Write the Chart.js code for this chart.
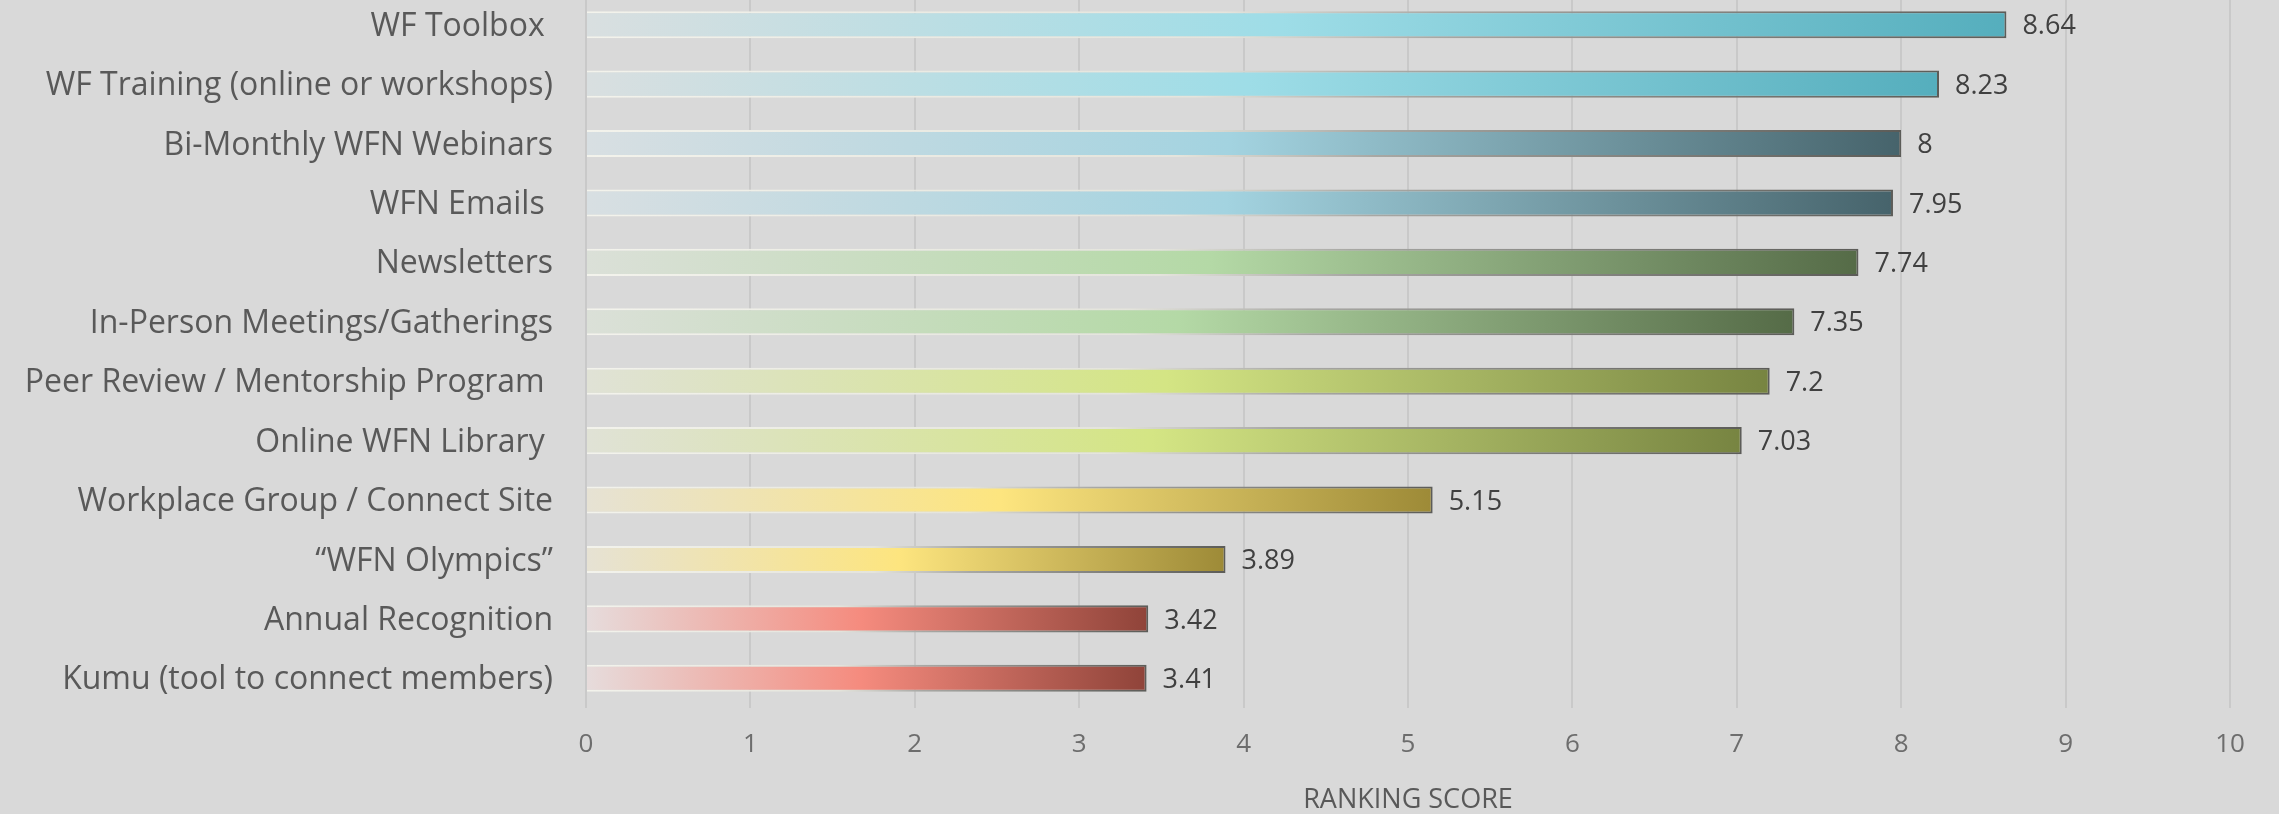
<!DOCTYPE html>
<html>
<head>
<meta charset="utf-8">
<title>Ranking Score</title>
<script src="https://cdn.jsdelivr.net/npm/chart.js@4.4.1/dist/chart.umd.min.js"></script>
<style>
  html, body { margin: 0; padding: 0; background: #d9d9d9; overflow: hidden; }
  #wrap { position: relative; width: 2279px; height: 819px; margin-top: -5px; }
</style>
</head>
<body>
<div id="wrap"><canvas id="c"></canvas></div>
<script>
// Resources, top to bottom
const categories = [
  'WF Toolbox ',
  'WF Training (online or workshops)',
  'Bi-Monthly WFN Webinars',
  'WFN Emails ',
  'Newsletters',
  'In-Person Meetings/Gatherings',
  'Peer Review / Mentorship Program ',
  'Online WFN Library ',
  'Workplace Group / Connect Site',
  '\u201CWFN Olympics\u201D',
  'Annual Recognition',
  'Kumu (tool to connect members)'
];

// Average ranking score per resource
const scores = [8.64, 8.23, 8, 7.95, 7.74, 7.35, 7.2, 7.03, 5.15, 3.89, 3.42, 3.41];

// Score axis
const xTicks = [0, 1, 2, 3, 4, 5, 6, 7, 8, 9, 10];
const axisTitle = 'RANKING SCORE';

// Gradient colours per bar: faded start, bright middle, deep end
const shadeLight = ['#d9dfe0', '#d9dfe0', '#d8dfe2', '#d8dfe2', '#dbe0d8', '#dbe0d8',
                    '#e0e2d6', '#e0e2d6', '#e6e2d4', '#e6e2d4', '#e6dcdc', '#e6dcdc'];
const shadePeak  = ['#9edde7', '#9edde7', '#a3d3e0', '#a3d3e0', '#b4d9a6', '#b4d9a6',
                    '#d4e584', '#d4e584', '#fde57f', '#fde57f', '#f58b7e', '#f58b7e'];
const shadeDark  = ['#55aebd', '#55aebd', '#46636b', '#46636b', '#556b47', '#556b47',
                    '#778441', '#778441', '#9d8a37', '#9d8a37', '#8f4339', '#8f4339'];

const FONT = '"Open Sans", Lato, sans-serif';

function barGradient(context, stops) {
  const chart = context.chart;
  const x = chart.scales && chart.scales.x;
  if (!chart.chartArea || !x) return stops[stops.length - 1][1];
  const i = context.dataIndex;
  const x0 = x.getPixelForValue(0);
  const x1 = x.getPixelForValue(scores[i]);
  const g = chart.ctx.createLinearGradient(x0, 0, x1, 0);
  stops.forEach(([p, c]) => g.addColorStop(p, c));
  return g;
}

// Score printed just past the end of each bar
const valueLabels = {
  id: 'valueLabels',
  afterDatasetsDraw(chart) {
    const ctx = chart.ctx;
    const meta = chart.getDatasetMeta(0);
    ctx.save();
    ctx.font = '27px ' + FONT;
    ctx.fillStyle = '#404040';
    ctx.textAlign = 'left';
    ctx.textBaseline = 'middle';
    meta.data.forEach((bar, i) => {
      ctx.fillText(String(scores[i]), bar.x + 16, bar.y + 2);
    });
    ctx.restore();
  }
};

new Chart(document.getElementById('c'), {
  type: 'bar',
  data: {
    labels: categories,
    datasets: [{
      data: scores,
      backgroundColor: (ctx) => barGradient(ctx, [
        [0, shadeLight[ctx.dataIndex]],
        [0.49, shadePeak[ctx.dataIndex]],
        [1, shadeDark[ctx.dataIndex]]
      ]),
      borderColor: (ctx) => barGradient(ctx, [
        [0, '#f3f3ec'],
        [0.45, '#e4e4dc'],
        [0.6, '#a8a8a4'],
        [1, '#5c5c58']
      ]),
      borderWidth: { top: 2, right: 2, bottom: 2, left: 0 },
      borderSkipped: 'start',
      categoryPercentage: 1,
      barPercentage: 0.455
    }]
  },
  options: {
    indexAxis: 'y',
    responsive: true,
    maintainAspectRatio: false,
    animation: false,
    layout: { padding: { left: 0, right: 49, top: 0, bottom: 0 } },
    plugins: {
      legend: { display: false },
      tooltip: { enabled: false }
    },
    scales: {
      x: {
        type: 'linear',
        min: xTicks[0],
        max: xTicks[xTicks.length - 1],
        afterBuildTicks: (scale) => { scale.ticks = xTicks.map(v => ({ value: v })); },
        afterFit: (scale) => { scale.height = 106; },
        border: { display: false },
        grid: { color: '#c9c9c9', lineWidth: 2, drawTicks: false },
        ticks: {
          padding: 21,
          color: '#6d6d6d',
          font: { family: FONT, size: 26 }
        },
        title: {
          display: true,
          text: axisTitle,
          color: '#595959',
          font: { family: FONT, size: 27, lineHeight: 1 },
          padding: { top: 0, bottom: 0 }
        }
      },
      y: {
        afterFit: (scale) => {
          scale.width = 586;
          scale.paddingTop = 0;
          scale.paddingBottom = 0;
        },
        border: { display: false },
        grid: { display: false, drawTicks: false },
        ticks: {
          padding: 33,
          labelOffset: 2,
          color: '#595959',
          font: { family: FONT, size: 32 }
        }
      }
    }
  },
  plugins: [valueLabels]
});
</script>
</body>
</html>
